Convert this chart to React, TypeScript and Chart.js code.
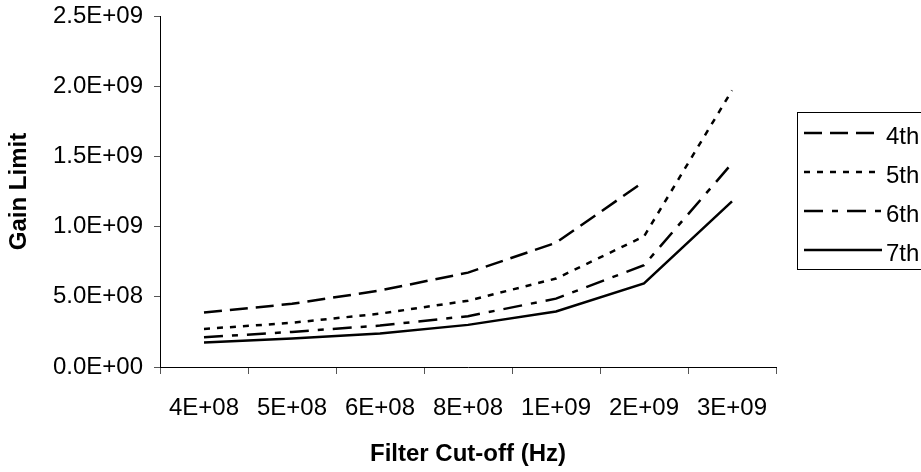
import React, { useEffect, useRef } from "react";
import { Chart, registerables } from "chart.js";

Chart.register(...registerables);

const categories = ["4E+08", "5E+08", "6E+08", "8E+08", "1E+09", "2E+09", "3E+09"];
const seriesNames = ["4th", "5th", "6th", "7th"];
const order4 = [3.88e8, 4.5e8, 5.45e8, 6.72e8, 8.85e8, 1.32e9, null];
const order5 = [2.71e8, 3.15e8, 3.8e8, 4.72e8, 6.3e8, 9.3e8, 1.97e9];
const order6 = [2.12e8, 2.5e8, 2.95e8, 3.62e8, 4.87e8, 7.25e8, 1.45e9];
const order7 = [1.74e8, 2.03e8, 2.38e8, 3.0e8, 3.95e8, 5.95e8, 1.18e9];
const yMin = 0;
const yMax = 2.5e9;
const yStep = 5e8;

const FONT = '"Liberation Sans", Arial, Helvetica, sans-serif';

function fmtExp(v: number): string {
  const [m, e] = Number(v).toExponential(1).split("e");
  const n = parseInt(e, 10);
  return m + "E" + (n < 0 ? "-" : "+") + String(Math.abs(n)).padStart(2, "0");
}

const boxLegend = {
  id: "boxLegend",
  afterDraw(chart: any) {
    const ctx = chart.ctx;
    const area = chart.chartArea;
    const left = area.right + 21;
    const top = 112;
    const rowH = 39;
    const firstY = 133;
    ctx.save();
    ctx.setLineDash([]);
    ctx.strokeStyle = "#000";
    ctx.lineWidth = 1;
    ctx.strokeRect(Math.round(left) + 0.5, top + 0.5, 200, 157);
    chart.data.datasets.forEach((ds: any, i: number) => {
      const y = firstY + i * rowH;
      ctx.save();
      ctx.beginPath();
      ctx.setLineDash(ds.borderDash || []);
      ctx.lineWidth = ds.borderWidth;
      ctx.strokeStyle = ds.borderColor;
      ctx.lineCap = "butt";
      ctx.moveTo(left + 7, y);
      ctx.lineTo(left + 85, y);
      ctx.stroke();
      ctx.restore();
      ctx.fillStyle = "#000";
      ctx.font = `24px ${FONT}`;
      ctx.textBaseline = "middle";
      ctx.textAlign = "left";
      ctx.fillText(ds.label, left + 89, y + 4);
    });
    ctx.restore();
  },
};

export default function App() {
  const ref = useRef<HTMLCanvasElement>(null);

  useEffect(() => {
    if (!ref.current) return;
    const styles = [
      { dash: [18, 8] },
      { dash: [6, 7] },
      { dash: [19, 9, 6, 9] },
      { dash: [] as number[] },
    ];
    const values = [order4, order5, order6, order7];
    const chart = new Chart(ref.current, {
      type: "line",
      data: {
        labels: categories,
        datasets: seriesNames.map((name, i) => ({
          label: name,
          data: values[i],
          borderColor: "#000",
          backgroundColor: "#000",
          borderWidth: 2.5,
          borderDash: styles[i].dash,
          pointRadius: 0,
          tension: 0,
          fill: false,
          spanGaps: false,
        })),
      },
      options: {
        responsive: false,
        devicePixelRatio: 1,
        animation: false,
        layout: { padding: { left: 0, right: 145, top: 16, bottom: 0 } },
        plugins: {
          legend: { display: false },
          tooltip: { enabled: false },
        },
        scales: {
          x: {
            type: "category",
            offset: true,
            grid: {
              offset: true,
              drawOnChartArea: false,
              drawTicks: true,
              tickLength: 7,
              color: "#555",
              lineWidth: 1,
            },
            border: { display: true, color: "#000", width: 1 },
            ticks: {
              color: "#000",
              font: { family: FONT, size: 24 },
              padding: 20,
              maxRotation: 0,
              autoSkip: false,
            },
            title: {
              display: true,
              text: "Filter Cut-off (Hz)",
              color: "#000",
              font: { family: FONT, size: 24, weight: "bold" },
              padding: { top: 0, bottom: 3 },
            },
            afterFit(s: any) {
              s.height = 105;
              s.paddingLeft = 0;
              s.paddingRight = 0;
            },
          },
          y: {
            min: yMin,
            max: yMax,
            grid: {
              drawOnChartArea: false,
              drawTicks: true,
              tickLength: 6,
              color: "#555",
              lineWidth: 1,
            },
            border: { display: true, color: "#000", width: 1 },
            ticks: {
              stepSize: yStep,
              color: "#000",
              font: { family: FONT, size: 24 },
              padding: 11,
              callback: (v: any) => fmtExp(Number(v)),
            },
            title: {
              display: true,
              text: "Gain Limit",
              color: "#000",
              font: { family: FONT, size: 24, weight: "bold" },
              padding: { top: 5, bottom: 0 },
            },
            afterFit(s: any) {
              s.width = 160;
              s.paddingTop = 0;
              s.paddingBottom = 0;
            },
          },
        },
      } as any,
      plugins: [boxLegend],
    });
    return () => chart.destroy();
  }, []);

  return (
    <div style={{ position: "absolute", left: 0, top: 0, width: 921, height: 472, background: "#fff" }}>
      <canvas ref={ref} width={921} height={472} style={{ display: "block" }} />
    </div>
  );
}
